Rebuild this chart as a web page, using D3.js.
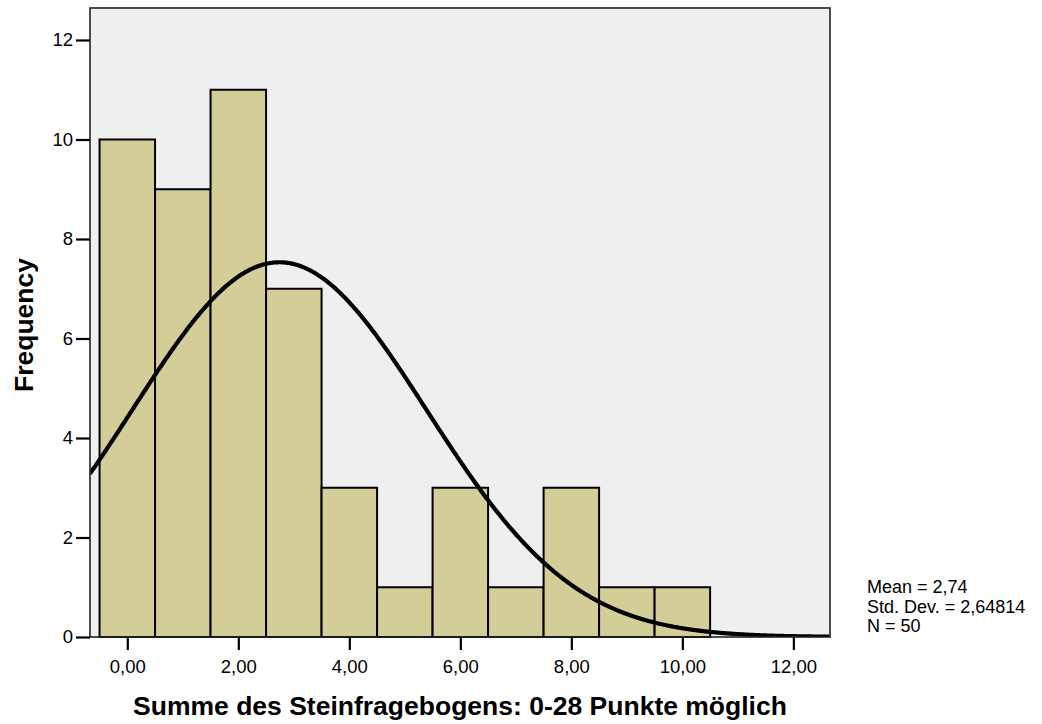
<!DOCTYPE html>
<html>
<head>
<meta charset="utf-8">
<script src="https://cdn.jsdelivr.net/npm/d3@7"></script>
<style>
  html, body { margin: 0; padding: 0; background: #fff; }
  svg { display: block; font-family: "Liberation Sans", Arial, sans-serif; }
</style>
</head>
<body>
<svg id="chart" width="1042" height="724"></svg>
<script>
// Histogram of questionnaire scores (bin width 1, centred on integers)
const binCenters = [0, 1, 2, 3, 4, 5, 6, 7, 8, 9, 10];
const frequencies = [10, 9, 11, 7, 3, 1, 3, 1, 3, 1, 1];
const xTickValues = [0, 2, 4, 6, 8, 10, 12];
const yTickValues = [0, 2, 4, 6, 8, 10, 12];
const meanValue = 2.74;
const stdDev = 2.64814;
const nCases = 50;
const statLines = ["Mean = 2,74", "Std. Dev. = 2,64814", "N = 50"];
const xTitle = "Summe des Steinfragebogens: 0-28 Punkte möglich";
const yTitle = "Frequency";

const svg = d3.select("#chart");
const plot = { left: 90, right: 830, top: 8, bottom: 637 };

const x = d3.scaleLinear().domain([-0.672, 12.66]).range([plot.left, plot.right]);
const y = d3.scaleLinear().domain([0, 12.643]).range([plot.bottom, plot.top]);

const fmt = v => d3.format(".2f")(v).replace(".", ",");

// plot background
svg.append("rect")
  .attr("x", plot.left).attr("y", plot.top)
  .attr("width", plot.right - plot.left).attr("height", plot.bottom - plot.top)
  .attr("fill", "#efefef");

svg.append("clipPath").attr("id", "plotClip")
  .append("rect")
  .attr("x", plot.left).attr("y", plot.top)
  .attr("width", plot.right - plot.left).attr("height", plot.bottom - plot.top);

// bars
svg.append("g").selectAll("rect")
  .data(binCenters.map((c, i) => ({ c, f: frequencies[i] })))
  .join("rect")
  .attr("x", d => x(d.c - 0.5))
  .attr("y", d => y(d.f))
  .attr("width", d => x(d.c + 0.5) - x(d.c - 0.5))
  .attr("height", d => y(0) - y(d.f))
  .attr("fill", "#d3ce98")
  .attr("stroke", "#000")
  .attr("stroke-width", 2);

// normal curve scaled to counts
const pdf = v => Math.exp(-0.5 * ((v - meanValue) / stdDev) ** 2) / (stdDev * Math.sqrt(2 * Math.PI));
const curvePts = d3.range(x.domain()[0], x.domain()[1] + 0.001, 0.02).map(v => [v, nCases * 1 * pdf(v)]);
svg.append("path")
  .datum(curvePts)
  .attr("clip-path", "url(#plotClip)")
  .attr("fill", "none")
  .attr("stroke", "#000")
  .attr("stroke-width", 4.2)
  .attr("d", d3.line().x(d => x(d[0])).y(d => y(d[1])));

// frame
svg.append("rect")
  .attr("x", plot.left).attr("y", plot.top)
  .attr("width", plot.right - plot.left).attr("height", plot.bottom - plot.top)
  .attr("fill", "none").attr("stroke", "#222").attr("stroke-width", 1.6);

// axes
const yAxis = svg.append("g")
  .attr("transform", `translate(${plot.left},0)`)
  .call(d3.axisLeft(y).tickValues(yTickValues).tickSize(14).tickPadding(3).tickFormat(d3.format("d")));
const xAxis = svg.append("g")
  .attr("transform", `translate(0,${plot.bottom})`)
  .call(d3.axisBottom(x).tickValues(xTickValues).tickSize(13).tickPadding(10).tickFormat(fmt));
[xAxis, yAxis].forEach(g => {
  g.select(".domain").remove();
  g.selectAll(".tick line").attr("stroke", "#000").attr("stroke-width", 2.2);
  g.selectAll(".tick text").attr("fill", "#000").style("font-size", "18.5px")
    .style("font-family", "'Liberation Sans', Arial, sans-serif");
});

// axis titles
svg.append("text")
  .attr("x", (plot.left + plot.right) / 2).attr("y", 715)
  .attr("text-anchor", "middle")
  .style("font-size", "26.5px").style("font-weight", "bold")
  .text(xTitle);
svg.append("text")
  .attr("transform", `translate(33,325) rotate(-90)`)
  .attr("text-anchor", "middle")
  .style("font-size", "26.5px").style("font-weight", "bold")
  .text(yTitle);

// summary statistics
svg.append("g").selectAll("text")
  .data(statLines)
  .join("text")
  .attr("x", 867)
  .attr("y", (d, i) => 593 + i * 19.5)
  .style("font-size", "18px")
  .text(d => d);
</script>
</body>
</html>
